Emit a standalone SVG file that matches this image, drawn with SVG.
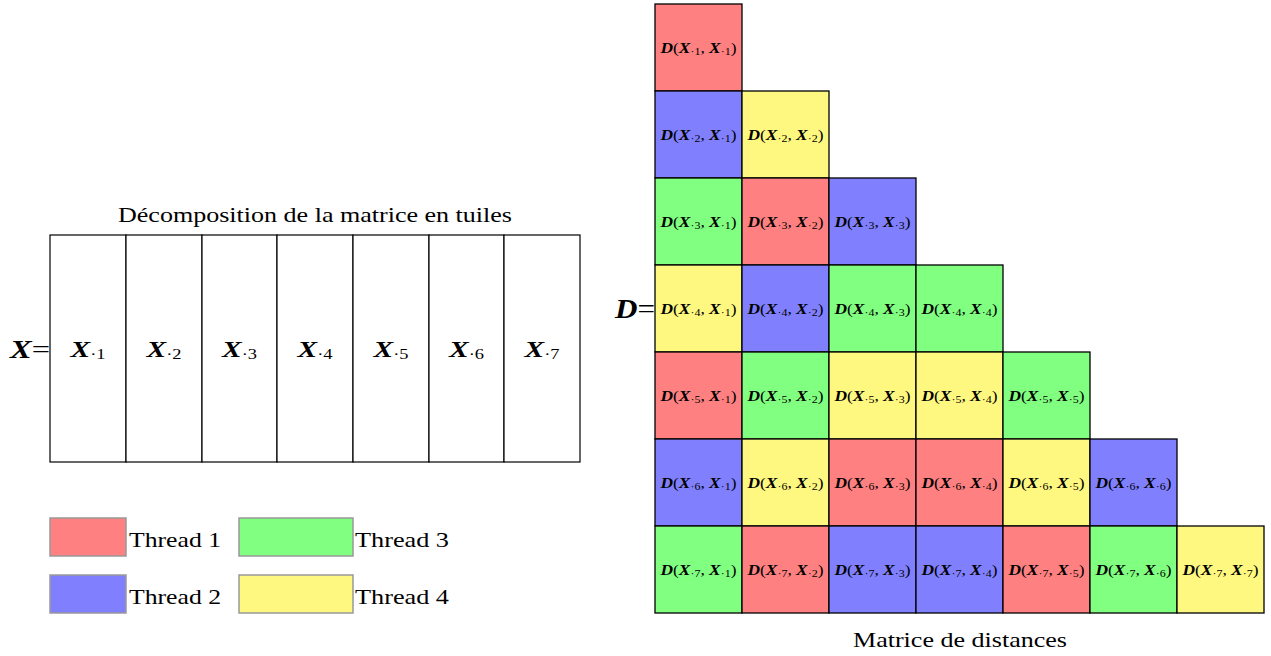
<svg xmlns="http://www.w3.org/2000/svg" width="1271" height="656" viewBox="0 0 1271 656">
<style>
text{font-family:"Liberation Serif","Times New Roman",serif;fill:#000}
.t{font-size:22px}
.c{stroke:#000;stroke-width:1.3}
.tile{fill:#fff;stroke:#000;stroke-width:1.2}
.leg{stroke:#999;stroke-width:1.5}
.R{fill:#ff8080}.B{fill:#8080ff}.G{fill:#80ff80}.Y{fill:#fff880}
.bi{font-weight:bold;font-style:italic}
.cl{font-size:14.5px;text-anchor:middle}
.sub{font-size:10px}
.xl{font-size:24px;text-anchor:middle}
.xs{font-size:15px}
</style>
<g id="title"><text class="t" x="315" y="222" text-anchor="middle" textLength="394" lengthAdjust="spacingAndGlyphs">Décomposition de la matrice en tuiles</text></g>
<g id="xeq"><text x="10" y="358" font-size="26" textLength="40" lengthAdjust="spacingAndGlyphs"><tspan class="bi">X</tspan>=</text></g>
<g id="tiles">
<g id="tile1"><rect class="tile" x="50" y="235" width="76" height="227"/><text class="xl" x="88" y="357" textLength="35" lengthAdjust="spacingAndGlyphs"><tspan class="bi">X</tspan><tspan class="xs" dy="2">·1</tspan></text></g>
<g id="tile2"><rect class="tile" x="126" y="235" width="76" height="227"/><text class="xl" x="164" y="357" textLength="35" lengthAdjust="spacingAndGlyphs"><tspan class="bi">X</tspan><tspan class="xs" dy="2">·2</tspan></text></g>
<g id="tile3"><rect class="tile" x="202" y="235" width="75" height="227"/><text class="xl" x="239.5" y="357" textLength="35" lengthAdjust="spacingAndGlyphs"><tspan class="bi">X</tspan><tspan class="xs" dy="2">·3</tspan></text></g>
<g id="tile4"><rect class="tile" x="277" y="235" width="76" height="227"/><text class="xl" x="315" y="357" textLength="35" lengthAdjust="spacingAndGlyphs"><tspan class="bi">X</tspan><tspan class="xs" dy="2">·4</tspan></text></g>
<g id="tile5"><rect class="tile" x="353" y="235" width="76" height="227"/><text class="xl" x="391" y="357" textLength="35" lengthAdjust="spacingAndGlyphs"><tspan class="bi">X</tspan><tspan class="xs" dy="2">·5</tspan></text></g>
<g id="tile6"><rect class="tile" x="429" y="235" width="75" height="227"/><text class="xl" x="466.5" y="357" textLength="35" lengthAdjust="spacingAndGlyphs"><tspan class="bi">X</tspan><tspan class="xs" dy="2">·6</tspan></text></g>
<g id="tile7"><rect class="tile" x="504" y="235" width="76" height="227"/><text class="xl" x="542" y="357" textLength="35" lengthAdjust="spacingAndGlyphs"><tspan class="bi">X</tspan><tspan class="xs" dy="2">·7</tspan></text></g>
</g>
<g id="legend">
<g id="leg1"><rect class="leg R" x="50" y="518" width="76" height="38"/><text class="t" x="129" y="547" textLength="92" lengthAdjust="spacingAndGlyphs">Thread 1</text></g>
<g id="leg2"><rect class="leg B" x="50" y="575" width="76" height="38"/><text class="t" x="129" y="604" textLength="92" lengthAdjust="spacingAndGlyphs">Thread 2</text></g>
<g id="leg3"><rect class="leg G" x="239" y="518" width="114" height="38"/><text class="t" x="355" y="547" textLength="94" lengthAdjust="spacingAndGlyphs">Thread 3</text></g>
<g id="leg4"><rect class="leg Y" x="239" y="575" width="114" height="38"/><text class="t" x="355" y="604" textLength="94" lengthAdjust="spacingAndGlyphs">Thread 4</text></g>
</g>
<g id="deq"><text x="615" y="318" font-size="27" textLength="40" lengthAdjust="spacingAndGlyphs"><tspan class="bi">D</tspan>=</text></g>
<g id="matrix">
<g id="d11"><rect class="c R" x="655" y="4" width="87" height="87"/><text class="cl" x="698.5" y="52.5" textLength="76" lengthAdjust="spacingAndGlyphs"><tspan class="bi">D</tspan>(<tspan class="bi">X</tspan><tspan class="sub" dy="2">·1</tspan><tspan dy="-2">, </tspan><tspan class="bi">X</tspan><tspan class="sub" dy="2">·1</tspan><tspan dy="-2">)</tspan></text></g>

<g id="d21"><rect class="c B" x="655" y="91" width="87" height="87"/><text class="cl" x="698.5" y="139.5" textLength="76" lengthAdjust="spacingAndGlyphs"><tspan class="bi">D</tspan>(<tspan class="bi">X</tspan><tspan class="sub" dy="2">·2</tspan><tspan dy="-2">, </tspan><tspan class="bi">X</tspan><tspan class="sub" dy="2">·1</tspan><tspan dy="-2">)</tspan></text></g>
<g id="d22"><rect class="c Y" x="742" y="91" width="87" height="87"/><text class="cl" x="785.5" y="139.5" textLength="76" lengthAdjust="spacingAndGlyphs"><tspan class="bi">D</tspan>(<tspan class="bi">X</tspan><tspan class="sub" dy="2">·2</tspan><tspan dy="-2">, </tspan><tspan class="bi">X</tspan><tspan class="sub" dy="2">·2</tspan><tspan dy="-2">)</tspan></text></g>

<g id="d31"><rect class="c G" x="655" y="178" width="87" height="87"/><text class="cl" x="698.5" y="226.5" textLength="76" lengthAdjust="spacingAndGlyphs"><tspan class="bi">D</tspan>(<tspan class="bi">X</tspan><tspan class="sub" dy="2">·3</tspan><tspan dy="-2">, </tspan><tspan class="bi">X</tspan><tspan class="sub" dy="2">·1</tspan><tspan dy="-2">)</tspan></text></g>
<g id="d32"><rect class="c R" x="742" y="178" width="87" height="87"/><text class="cl" x="785.5" y="226.5" textLength="76" lengthAdjust="spacingAndGlyphs"><tspan class="bi">D</tspan>(<tspan class="bi">X</tspan><tspan class="sub" dy="2">·3</tspan><tspan dy="-2">, </tspan><tspan class="bi">X</tspan><tspan class="sub" dy="2">·2</tspan><tspan dy="-2">)</tspan></text></g>
<g id="d33"><rect class="c B" x="829" y="178" width="87" height="87"/><text class="cl" x="872.5" y="226.5" textLength="76" lengthAdjust="spacingAndGlyphs"><tspan class="bi">D</tspan>(<tspan class="bi">X</tspan><tspan class="sub" dy="2">·3</tspan><tspan dy="-2">, </tspan><tspan class="bi">X</tspan><tspan class="sub" dy="2">·3</tspan><tspan dy="-2">)</tspan></text></g>

<g id="d41"><rect class="c Y" x="655" y="265" width="87" height="87"/><text class="cl" x="698.5" y="313.5" textLength="76" lengthAdjust="spacingAndGlyphs"><tspan class="bi">D</tspan>(<tspan class="bi">X</tspan><tspan class="sub" dy="2">·4</tspan><tspan dy="-2">, </tspan><tspan class="bi">X</tspan><tspan class="sub" dy="2">·1</tspan><tspan dy="-2">)</tspan></text></g>
<g id="d42"><rect class="c B" x="742" y="265" width="87" height="87"/><text class="cl" x="785.5" y="313.5" textLength="76" lengthAdjust="spacingAndGlyphs"><tspan class="bi">D</tspan>(<tspan class="bi">X</tspan><tspan class="sub" dy="2">·4</tspan><tspan dy="-2">, </tspan><tspan class="bi">X</tspan><tspan class="sub" dy="2">·2</tspan><tspan dy="-2">)</tspan></text></g>
<g id="d43"><rect class="c G" x="829" y="265" width="87" height="87"/><text class="cl" x="872.5" y="313.5" textLength="76" lengthAdjust="spacingAndGlyphs"><tspan class="bi">D</tspan>(<tspan class="bi">X</tspan><tspan class="sub" dy="2">·4</tspan><tspan dy="-2">, </tspan><tspan class="bi">X</tspan><tspan class="sub" dy="2">·3</tspan><tspan dy="-2">)</tspan></text></g>
<g id="d44"><rect class="c G" x="916" y="265" width="87" height="87"/><text class="cl" x="959.5" y="313.5" textLength="76" lengthAdjust="spacingAndGlyphs"><tspan class="bi">D</tspan>(<tspan class="bi">X</tspan><tspan class="sub" dy="2">·4</tspan><tspan dy="-2">, </tspan><tspan class="bi">X</tspan><tspan class="sub" dy="2">·4</tspan><tspan dy="-2">)</tspan></text></g>

<g id="d51"><rect class="c R" x="655" y="352" width="87" height="87"/><text class="cl" x="698.5" y="400.5" textLength="76" lengthAdjust="spacingAndGlyphs"><tspan class="bi">D</tspan>(<tspan class="bi">X</tspan><tspan class="sub" dy="2">·5</tspan><tspan dy="-2">, </tspan><tspan class="bi">X</tspan><tspan class="sub" dy="2">·1</tspan><tspan dy="-2">)</tspan></text></g>
<g id="d52"><rect class="c G" x="742" y="352" width="87" height="87"/><text class="cl" x="785.5" y="400.5" textLength="76" lengthAdjust="spacingAndGlyphs"><tspan class="bi">D</tspan>(<tspan class="bi">X</tspan><tspan class="sub" dy="2">·5</tspan><tspan dy="-2">, </tspan><tspan class="bi">X</tspan><tspan class="sub" dy="2">·2</tspan><tspan dy="-2">)</tspan></text></g>
<g id="d53"><rect class="c Y" x="829" y="352" width="87" height="87"/><text class="cl" x="872.5" y="400.5" textLength="76" lengthAdjust="spacingAndGlyphs"><tspan class="bi">D</tspan>(<tspan class="bi">X</tspan><tspan class="sub" dy="2">·5</tspan><tspan dy="-2">, </tspan><tspan class="bi">X</tspan><tspan class="sub" dy="2">·3</tspan><tspan dy="-2">)</tspan></text></g>
<g id="d54"><rect class="c Y" x="916" y="352" width="87" height="87"/><text class="cl" x="959.5" y="400.5" textLength="76" lengthAdjust="spacingAndGlyphs"><tspan class="bi">D</tspan>(<tspan class="bi">X</tspan><tspan class="sub" dy="2">·5</tspan><tspan dy="-2">, </tspan><tspan class="bi">X</tspan><tspan class="sub" dy="2">·4</tspan><tspan dy="-2">)</tspan></text></g>
<g id="d55"><rect class="c G" x="1003" y="352" width="87" height="87"/><text class="cl" x="1046.5" y="400.5" textLength="76" lengthAdjust="spacingAndGlyphs"><tspan class="bi">D</tspan>(<tspan class="bi">X</tspan><tspan class="sub" dy="2">·5</tspan><tspan dy="-2">, </tspan><tspan class="bi">X</tspan><tspan class="sub" dy="2">·5</tspan><tspan dy="-2">)</tspan></text></g>

<g id="d61"><rect class="c B" x="655" y="439" width="87" height="87"/><text class="cl" x="698.5" y="487.5" textLength="76" lengthAdjust="spacingAndGlyphs"><tspan class="bi">D</tspan>(<tspan class="bi">X</tspan><tspan class="sub" dy="2">·6</tspan><tspan dy="-2">, </tspan><tspan class="bi">X</tspan><tspan class="sub" dy="2">·1</tspan><tspan dy="-2">)</tspan></text></g>
<g id="d62"><rect class="c Y" x="742" y="439" width="87" height="87"/><text class="cl" x="785.5" y="487.5" textLength="76" lengthAdjust="spacingAndGlyphs"><tspan class="bi">D</tspan>(<tspan class="bi">X</tspan><tspan class="sub" dy="2">·6</tspan><tspan dy="-2">, </tspan><tspan class="bi">X</tspan><tspan class="sub" dy="2">·2</tspan><tspan dy="-2">)</tspan></text></g>
<g id="d63"><rect class="c R" x="829" y="439" width="87" height="87"/><text class="cl" x="872.5" y="487.5" textLength="76" lengthAdjust="spacingAndGlyphs"><tspan class="bi">D</tspan>(<tspan class="bi">X</tspan><tspan class="sub" dy="2">·6</tspan><tspan dy="-2">, </tspan><tspan class="bi">X</tspan><tspan class="sub" dy="2">·3</tspan><tspan dy="-2">)</tspan></text></g>
<g id="d64"><rect class="c R" x="916" y="439" width="87" height="87"/><text class="cl" x="959.5" y="487.5" textLength="76" lengthAdjust="spacingAndGlyphs"><tspan class="bi">D</tspan>(<tspan class="bi">X</tspan><tspan class="sub" dy="2">·6</tspan><tspan dy="-2">, </tspan><tspan class="bi">X</tspan><tspan class="sub" dy="2">·4</tspan><tspan dy="-2">)</tspan></text></g>
<g id="d65"><rect class="c Y" x="1003" y="439" width="87" height="87"/><text class="cl" x="1046.5" y="487.5" textLength="76" lengthAdjust="spacingAndGlyphs"><tspan class="bi">D</tspan>(<tspan class="bi">X</tspan><tspan class="sub" dy="2">·6</tspan><tspan dy="-2">, </tspan><tspan class="bi">X</tspan><tspan class="sub" dy="2">·5</tspan><tspan dy="-2">)</tspan></text></g>
<g id="d66"><rect class="c B" x="1090" y="439" width="87" height="87"/><text class="cl" x="1133.5" y="487.5" textLength="76" lengthAdjust="spacingAndGlyphs"><tspan class="bi">D</tspan>(<tspan class="bi">X</tspan><tspan class="sub" dy="2">·6</tspan><tspan dy="-2">, </tspan><tspan class="bi">X</tspan><tspan class="sub" dy="2">·6</tspan><tspan dy="-2">)</tspan></text></g>

<g id="d71"><rect class="c G" x="655" y="526" width="87" height="87"/><text class="cl" x="698.5" y="574.5" textLength="76" lengthAdjust="spacingAndGlyphs"><tspan class="bi">D</tspan>(<tspan class="bi">X</tspan><tspan class="sub" dy="2">·7</tspan><tspan dy="-2">, </tspan><tspan class="bi">X</tspan><tspan class="sub" dy="2">·1</tspan><tspan dy="-2">)</tspan></text></g>
<g id="d72"><rect class="c R" x="742" y="526" width="87" height="87"/><text class="cl" x="785.5" y="574.5" textLength="76" lengthAdjust="spacingAndGlyphs"><tspan class="bi">D</tspan>(<tspan class="bi">X</tspan><tspan class="sub" dy="2">·7</tspan><tspan dy="-2">, </tspan><tspan class="bi">X</tspan><tspan class="sub" dy="2">·2</tspan><tspan dy="-2">)</tspan></text></g>
<g id="d73"><rect class="c B" x="829" y="526" width="87" height="87"/><text class="cl" x="872.5" y="574.5" textLength="76" lengthAdjust="spacingAndGlyphs"><tspan class="bi">D</tspan>(<tspan class="bi">X</tspan><tspan class="sub" dy="2">·7</tspan><tspan dy="-2">, </tspan><tspan class="bi">X</tspan><tspan class="sub" dy="2">·3</tspan><tspan dy="-2">)</tspan></text></g>
<g id="d74"><rect class="c B" x="916" y="526" width="87" height="87"/><text class="cl" x="959.5" y="574.5" textLength="76" lengthAdjust="spacingAndGlyphs"><tspan class="bi">D</tspan>(<tspan class="bi">X</tspan><tspan class="sub" dy="2">·7</tspan><tspan dy="-2">, </tspan><tspan class="bi">X</tspan><tspan class="sub" dy="2">·4</tspan><tspan dy="-2">)</tspan></text></g>
<g id="d75"><rect class="c R" x="1003" y="526" width="87" height="87"/><text class="cl" x="1046.5" y="574.5" textLength="76" lengthAdjust="spacingAndGlyphs"><tspan class="bi">D</tspan>(<tspan class="bi">X</tspan><tspan class="sub" dy="2">·7</tspan><tspan dy="-2">, </tspan><tspan class="bi">X</tspan><tspan class="sub" dy="2">·5</tspan><tspan dy="-2">)</tspan></text></g>
<g id="d76"><rect class="c G" x="1090" y="526" width="87" height="87"/><text class="cl" x="1133.5" y="574.5" textLength="76" lengthAdjust="spacingAndGlyphs"><tspan class="bi">D</tspan>(<tspan class="bi">X</tspan><tspan class="sub" dy="2">·7</tspan><tspan dy="-2">, </tspan><tspan class="bi">X</tspan><tspan class="sub" dy="2">·6</tspan><tspan dy="-2">)</tspan></text></g>
<g id="d77"><rect class="c Y" x="1177" y="526" width="87" height="87"/><text class="cl" x="1220.5" y="574.5" textLength="76" lengthAdjust="spacingAndGlyphs"><tspan class="bi">D</tspan>(<tspan class="bi">X</tspan><tspan class="sub" dy="2">·7</tspan><tspan dy="-2">, </tspan><tspan class="bi">X</tspan><tspan class="sub" dy="2">·7</tspan><tspan dy="-2">)</tspan></text></g>
</g>
<g id="connectors"/>
<g id="caption"><text class="t" x="960" y="647" text-anchor="middle" textLength="214" lengthAdjust="spacingAndGlyphs">Matrice de distances</text></g>
</svg>
